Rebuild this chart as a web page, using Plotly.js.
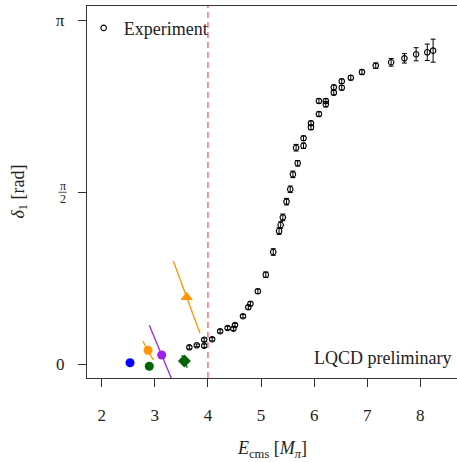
<!DOCTYPE html>
<html>
<head>
<meta charset="utf-8">
<script src="https://cdn.plot.ly/plotly-3.0.1.min.js"></script>
<style>html,body{margin:0;padding:0;background:#fff;}</style>
</head>
<body>
<div id="chart" style="width:457px;height:462px;"></div>
<script>
// Experimental phase shift data
const expE = [3.65,3.79,3.93,3.93,4.08,4.23,4.37,4.48,4.51,4.66,4.76,4.80,4.94,5.09,5.23,5.34,5.37,5.41,5.48,5.55,5.60,5.69,5.66,5.80,5.80,5.94,5.94,6.09,6.09,6.22,6.22,6.37,6.37,6.52,6.52,6.69,6.90,7.16,7.45,7.70,7.92,8.13,8.24];
const expDelta = [0.157,0.175,0.226,0.171,0.230,0.303,0.333,0.326,0.360,0.440,0.522,0.554,0.668,0.819,1.026,1.217,1.272,1.342,1.485,1.598,1.734,1.835,1.977,1.995,2.063,2.200,2.163,2.284,2.403,2.403,2.373,2.479,2.528,2.524,2.583,2.615,2.667,2.725,2.756,2.792,2.829,2.847,2.862];
const expErr = [0.015,0.012,0.015,0.015,0.015,0.015,0.015,0.015,0.015,0.015,0.018,0.018,0.02,0.025,0.03,0.03,0.03,0.03,0.03,0.03,0.03,0.025,0.03,0.025,0.02,0.02,0.02,0.02,0.02,0.02,0.025,0.02,0.02,0.02,0.02,0.02,0.02,0.025,0.035,0.043,0.06,0.075,0.105];

// Lattice QCD points
const lqBlueE = [2.533], lqBlueD = [0.016];
const lqGreenE = [2.896], lqGreenD = [-0.016];
const lqOrangeE = [2.872], lqOrangeD = [0.129];
const lqOrangeLineE = [2.772, 2.972], lqOrangeLineD = [0.214, 0.041];
const lqPurpleE = [3.13], lqPurpleD = [0.087];
const lqPurpleLineE = [2.896, 3.36], lqPurpleLineD = [0.357, -0.183];
const lqTriE = [3.60], lqTriD = [0.613];
const lqTriLineE = [3.348, 3.851], lqTriLineD = [0.944, 0.285];
const lqDiaE = [3.556], lqDiaD = [0.032];
const lqDiaLineE = [3.507, 3.612], lqDiaLineD = [0.087, -0.029];

const thresholdE = 4;
const xTicks = [2,3,4,5,6,7,8];
const yTicks = [0, Math.PI/2, Math.PI];
const yTickText = ["0", "", "π"];

const serif = "Liberation Serif";
const ink = "#222";

function seg(x, y, color) {
  return {x: x, y: y, type: "scatter", mode: "lines", showlegend: false,
    line: {color: color, width: 1.3}, hoverinfo: "skip"};
}
function pt(x, y, color, symbol, size) {
  return {x: x, y: y, type: "scatter", mode: "markers", showlegend: false, cliponaxis: true,
    marker: {color: color, symbol: symbol, size: size, line: {width: 0}}};
}

const traces = [
  seg(lqOrangeLineE, lqOrangeLineD, "#FF9500"),
  seg(lqPurpleLineE, lqPurpleLineD, "#A020F0"),
  seg(lqTriLineE, lqTriLineD, "#FF9500"),
  seg(lqDiaLineE, lqDiaLineD, "#006400"),
  pt(lqBlueE, lqBlueD, "#0000FF", "circle", 9),
  pt(lqGreenE, lqGreenD, "#006400", "circle", 9),
  pt(lqOrangeE, lqOrangeD, "#FF9500", "circle", 9),
  pt(lqPurpleE, lqPurpleD, "#A020F0", "circle", 9),
  pt(lqTriE, lqTriD, "#FF9500", "triangle-up", 11),
  pt(lqDiaE, lqDiaD, "#006400", "diamond", 10),
  {
    x: expE, y: expDelta, type: "scatter", mode: "markers", name: "Experiment",
    showlegend: true,
    marker: {symbol: "circle-open", size: 5.5, color: "#000", line: {width: 1.1, color: "#000"}},
    error_y: {type: "data", array: expErr, visible: true, color: "#000", thickness: 1, width: 2.5}
  }
];

const layout = {
  width: 457, height: 462,
  margin: {l: 87, r: 0, t: 6, b: 84},
  paper_bgcolor: "#fff", plot_bgcolor: "#fff",
  font: {family: serif, color: ink, size: 15},
  showlegend: true,
  legend: {x: -0.009, y: 0.99, xanchor: "left", yanchor: "top", bgcolor: "rgba(0,0,0,0)",
    font: {family: serif, size: 18, color: ink}, itemwidth: 30, tracegroupgap: 0},
  xaxis: {
    range: [1.723, 8.69], tickvals: xTicks, ticktext: xTicks.map(String),
    showgrid: false, zeroline: false, showline: true, mirror: true,
    linecolor: "#333", linewidth: 1.2,
    ticks: "outside", ticklen: 8, tickcolor: "#333", tickwidth: 1,
    ticklabelstandoff: 13,
    tickfont: {family: serif, size: 17, color: ink}
  },
  yaxis: {
    range: [-0.123, 3.2693], tickvals: yTicks, ticktext: yTickText,
    showgrid: false, zeroline: false, showline: true, mirror: false,
    linecolor: "#333", linewidth: 1.2,
    ticks: "outside", ticklen: 8, tickcolor: "#333", tickwidth: 1,
    ticklabelstandoff: 10,
    tickfont: {family: serif, size: 17, color: ink}
  },
  shapes: [
    {type: "line", xref: "x", yref: "paper", x0: thresholdE, x1: thresholdE, y0: 0, y1: 1,
     line: {color: "rgba(255,60,60,0.75)", width: 1.5, dash: "6px,4px"}},
    {type: "line", xref: "paper", yref: "y", x0: -0.077, x1: -0.055, y0: Math.PI/2, y1: Math.PI/2,
     line: {color: ink, width: 0.8}}
  ],
  annotations: [
    {text: "π", xref: "paper", yref: "y", x: -0.066, y: Math.PI/2, yshift: 6,
     showarrow: false, font: {family: serif, size: 12, color: ink}, xanchor: "center", yanchor: "middle"},
    {text: "2", xref: "paper", yref: "y", x: -0.066, y: Math.PI/2, yshift: -7,
     showarrow: false, font: {family: serif, size: 12, color: ink}, xanchor: "center", yanchor: "middle"},
    {text: "LQCD preliminary", xref: "paper", yref: "paper", x: 0.99, y: 0.055,
     xanchor: "right", yanchor: "middle", showarrow: false, font: {family: serif, size: 18, color: ink}},
    {text: "<i>E</i><sub>cms</sub> [<i>M</i><sub><i>π</i></sub>]", xref: "paper", yref: "paper",
     x: 0.5, y: -0.192, yanchor: "middle", xanchor: "center", showarrow: false,
     font: {family: serif, size: 18, color: ink}},
    {text: "<i>δ</i><sub>1</sub> [rad]", xref: "paper", yref: "paper", x: -0.185, y: 0.5,
     xanchor: "center", yanchor: "middle", textangle: -90, showarrow: false,
     font: {family: serif, size: 18, color: ink}}
  ]
};

Plotly.newPlot("chart", traces, layout, {displayModeBar: false, staticPlot: true});
</script>
</body>
</html>
